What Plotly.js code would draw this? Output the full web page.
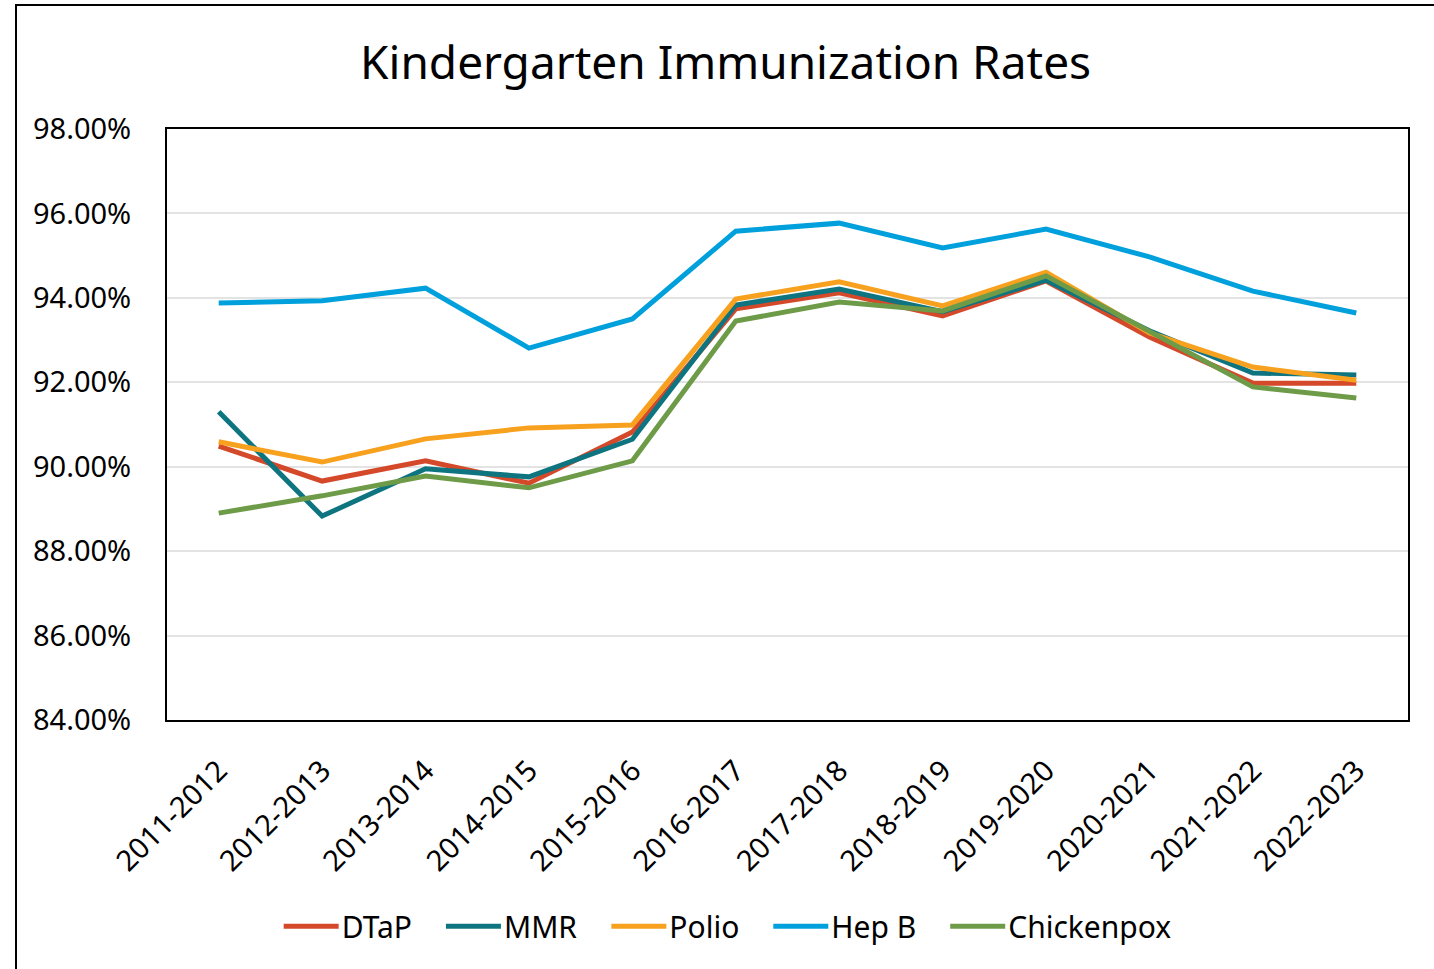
<!DOCTYPE html>
<html>
<head>
<meta charset="utf-8">
<script src="https://cdn.plot.ly/plotly-3.0.1.min.js"></script>
<style>
  html, body { margin: 0; padding: 0; background: #fff; overflow: hidden; }
  #frame { position: absolute; left: 15px; top: 4px; width: 1440px; height: 1000px;
           border-left: 2px solid #000; border-top: 2px solid #000; box-sizing: border-box; }
  #chart { position: absolute; left: 0; top: 0; width: 1434px; height: 969px; }
</style>
</head>
<body>
<div id="frame"></div>
<div id="chart"></div>
<script>
const years = ["2011-2012","2012-2013","2013-2014","2014-2015","2015-2016","2016-2017",
               "2017-2018","2018-2019","2019-2020","2020-2021","2021-2022","2022-2023"];
const dtap       = [90.49, 89.66, 90.14, 89.61, 90.82, 93.74, 94.12, 93.57, 94.40, 93.07, 91.98, 91.98];
const mmr        = [91.30, 88.83, 89.95, 89.76, 90.65, 93.83, 94.21, 93.67, 94.42, 93.22, 92.22, 92.17];
const polio      = [90.59, 90.11, 90.66, 90.92, 90.99, 93.97, 94.38, 93.81, 94.61, 93.17, 92.36, 92.05];
const hepb       = [93.88, 93.93, 94.23, 92.81, 93.50, 95.58, 95.77, 95.18, 95.63, 94.97, 94.16, 93.64];
const chickenpox = [88.90, 89.31, 89.78, 89.50, 90.14, 93.45, 93.90, 93.69, 94.52, 93.20, 91.89, 91.63];

const seriesNames = ["DTaP", "MMR", "Polio", "Hep B", "Chickenpox"];
const seriesData = [dtap, mmr, polio, hepb, chickenpox];
const seriesColors = ["#D4492A", "#0E7580", "#F7A11F", "#00A0DC", "#6E9B48"];

const traces = seriesNames.map((n, i) => ({
  type: "scatter", mode: "lines", name: n, x: years,
  y: seriesData[i].map(v => v / 100),
  line: { color: seriesColors[i], width: 5, shape: "linear" },
  hoverinfo: "x+y+name"
}));

const font = "Noto Sans, Open Sans, DejaVu Sans, sans-serif";
const layout = {
  width: 1434, height: 969,
  paper_bgcolor: "rgba(0,0,0,0)", plot_bgcolor: "#fff",
  margin: { l: 167, r: 26, t: 129, b: 249 },
  title: { text: "Kindergarten Immunization Rates", x: 0.506, xanchor: "center", y: 0.935, yanchor: "middle",
           font: { family: font, size: 46, color: "#000" } },
  font: { family: font, color: "#000" },
  xaxis: {
    type: "category", range: [-0.5, 11.5], tickangle: -45, tickfont: { size: 29, color: "#000" },
    showline: true, linecolor: "#000", linewidth: 2, mirror: true,
    showgrid: false, ticks: "", ticklabelstandoff: 20, fixedrange: true
  },
  yaxis: {
    range: [0.84, 0.98], dtick: 0.02, tick0: 0.84, tickformat: ".2%",
    tickfont: { size: 29, color: "#000" },
    showline: true, linecolor: "#000", linewidth: 2, mirror: true,
    showgrid: true, gridcolor: "#e3e3e3", gridwidth: 2, zeroline: false,
    ticks: "", ticklabelstandoff: 28, fixedrange: true
  },
  legend: {
    orientation: "h", x: 0.453, xanchor: "center", y: -0.349, yanchor: "middle",
    font: { size: 30, color: "#000" }, itemwidth: 50, tracegroupgap: 0,
    bgcolor: "rgba(0,0,0,0)"
  },
  showlegend: true
};

const legendExtraGap = 27;

function parseTranslate(el) {
  const t = el.getAttribute("transform") || "";
  const m = t.match(/translate\(\s*([-\d.e]+)[ ,]+([-\d.e]+)\s*\)/);
  return m ? [parseFloat(m[1]), parseFloat(m[2])] : [0, 0];
}

Plotly.newPlot("chart", traces, layout, { displayModeBar: false, staticPlot: true }).then(gd => {
  const leg = gd.querySelector(".legend");
  if (!leg) return;
  // lengthen legend line symbols to match the wider legend key
  leg.querySelectorAll(".legendlines path").forEach(p => p.setAttribute("d", "M2,0h55"));
  // widen spacing between legend entries and re-centre the legend
  const items = leg.querySelectorAll(".traces");
  items.forEach((g, i) => {
    const [x, y] = parseTranslate(g);
    g.setAttribute("transform", `translate(${x + i * legendExtraGap},${y})`);
  });
  const [lx, ly] = parseTranslate(leg);
  leg.setAttribute("transform", `translate(${lx - (items.length - 1) * legendExtraGap / 2},${ly})`);
  const sb = leg.querySelector(".scrollbox");
  if (sb) sb.removeAttribute("clip-path");
});
</script>
</body>
</html>
